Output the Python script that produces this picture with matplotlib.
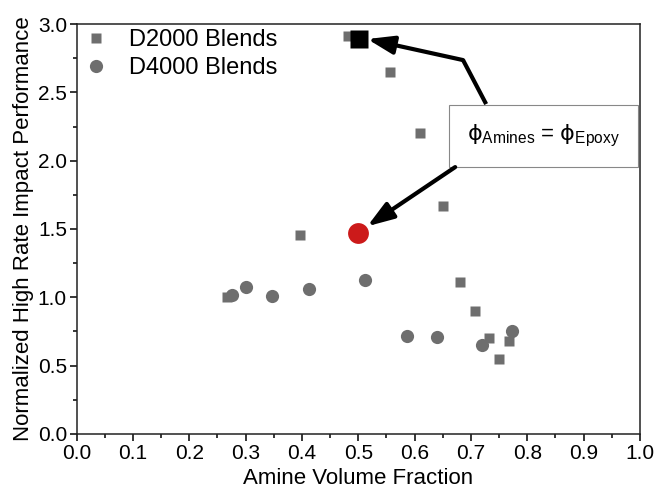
import matplotlib
matplotlib.use("Agg")
import matplotlib.pyplot as plt
from matplotlib.ticker import MultipleLocator, FormatStrFormatter

plt.rcParams['font.family'] = ['Liberation Sans', 'DejaVu Sans']
plt.rcParams['mathtext.fontset'] = 'custom'
plt.rcParams['mathtext.rm'] = 'Liberation Sans'
plt.rcParams['mathtext.it'] = 'Liberation Sans:italic'
plt.rcParams['mathtext.sf'] = 'DejaVu Sans'

# Data
d2000_x = [0.267, 0.396, 0.482, 0.556, 0.609, 0.650, 0.680, 0.707, 0.732, 0.768, 0.750]
d2000_y = [1.00, 1.456, 2.91, 2.65, 2.20, 1.67, 1.11, 0.90, 0.70, 0.68, 0.55]
d4000_x = [0.276, 0.300, 0.347, 0.412, 0.512, 0.586, 0.640, 0.720, 0.773]
d4000_y = [1.02, 1.075, 1.01, 1.06, 1.13, 0.72, 0.71, 0.65, 0.75]
eq_sq_x, eq_sq_y = [0.502], [2.89]
eq_ci_x, eq_ci_y = [0.50], [1.47]

gray = '#6e6e6e'
phi = '\u03d5'

fig = plt.figure(figsize=(6.57, 4.88), dpi=100)
ax = fig.add_axes([0.1167, 0.1107, 0.974 - 0.1167, 0.9508 - 0.1107])

ax.plot(d2000_x, d2000_y, 's', color=gray, ms=7, mec='none', label='D2000 Blends', zorder=3)
ax.plot(d4000_x, d4000_y, 'o', color=gray, ms=9.5, mec='none', label='D4000 Blends', zorder=3)
ax.plot(eq_sq_x, eq_sq_y, 's', color='black', ms=12.5, mec='none', zorder=4)
ax.plot(eq_ci_x, eq_ci_y, 'o', color='#cc1a1a', ms=15, mec='none', zorder=4)

ax.set_xlim(0, 1.0)
ax.set_ylim(0, 3.0)
ax.xaxis.set_major_locator(MultipleLocator(0.1))
ax.xaxis.set_minor_locator(MultipleLocator(0.05))
ax.yaxis.set_major_locator(MultipleLocator(0.5))
ax.yaxis.set_minor_locator(MultipleLocator(0.25))
ax.xaxis.set_major_formatter(FormatStrFormatter('%.1f'))
ax.yaxis.set_major_formatter(FormatStrFormatter('%.1f'))
ax.tick_params(which='major', direction='out', length=5, width=1.1, labelsize=15, pad=2)
ax.tick_params(which='minor', direction='out', length=3, width=1.1)
for s in ax.spines.values():
    s.set_linewidth(1.1)
    s.set_color('#222222')

ax.set_xlabel('Amine Volume Fraction', fontsize=16, labelpad=4)
ax.set_ylabel('Normalized High Rate Impact Performance', fontsize=16, labelpad=3)

leg = ax.legend(loc='upper left', frameon=False, fontsize=17, handletextpad=1.0,
                borderaxespad=0.0, labelspacing=0.25, handlelength=0.8,
                bbox_to_anchor=(0.0, 1.01))

# Annotation box
label = r'$\mathsf{%s}_{\mathrm{Amines}}$ = $\mathsf{%s}_{\mathrm{Epoxy}}$' % (phi, phi)
ax.text(0.829, 2.18, label, fontsize=16, ha='center', va='center', zorder=5,
        bbox=dict(boxstyle='square,pad=0.8', fc='white', ec='#888888', lw=0.8))

# Arrows
ax.plot([0.727, 0.686], [2.414, 2.736], color='black', lw=3, solid_capstyle='butt', zorder=5)
ax.annotate('', xy=(0.516, 2.89), xytext=(0.686, 2.736),
            arrowprops=dict(arrowstyle='-|>,head_length=1.6,head_width=0.55', color='black', lw=3,
                            shrinkA=0, shrinkB=0), zorder=5)
ax.annotate('', xy=(0.516, 1.52), xytext=(0.672, 1.953),
            arrowprops=dict(arrowstyle='-|>,head_length=1.6,head_width=0.55', color='black', lw=3,
                            shrinkA=0, shrinkB=0), zorder=5)

fig.savefig('out.png', dpi=100)
